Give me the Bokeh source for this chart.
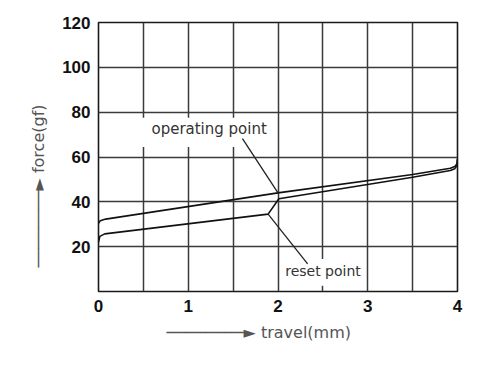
from bokeh.plotting import figure
from bokeh.models import Range1d, FixedTicker, Label, Title
from bokeh.embed import file_html
from bokeh.resources import INLINE

# ---- data ----
travel_operating = [0.0, 0.02, 0.08, 2.0, 3.5, 3.92, 3.97, 3.995, 4.0]
force_operating = [30.4, 31.6, 32.3, 44.0, 52.2, 55.0, 55.8, 57.0, 59.2]

travel_reset = [0.0, 0.015, 0.07, 1.89, 2.01, 3.5, 3.92, 3.97, 3.995, 4.0]
force_reset = [22.0, 24.6, 25.7, 34.5, 41.4, 51.0, 54.0, 54.8, 56.2, 58.8]

x_ticks = [0, 1, 2, 3, 4]
y_ticks = [20, 40, 60, 80, 100, 120]
x_grid = [0.5, 1, 1.5, 2, 2.5, 3, 3.5]
y_grid = [20, 40, 60, 80, 100]

p = figure(width=476, height=364, output_backend="svg", toolbar_location=None,
           x_range=Range1d(0, 4), y_range=Range1d(0, 120),
           min_border_left=98, min_border_right=19, min_border_top=22, min_border_bottom=73)
p.background_fill_color = "white"
p.border_fill_color = "white"
p.outline_line_color = "#1a1a1a"
p.outline_line_width = 1.6

for ax, ticks in ((p.xaxis[0], x_ticks), (p.yaxis[0], y_ticks)):
    ax.ticker = FixedTicker(ticks=ticks)
    ax.axis_line_color = None
    ax.major_tick_line_color = None
    ax.minor_tick_line_color = None
    ax.major_tick_out = 0
    ax.major_tick_in = 0
    ax.minor_tick_out = 0
    ax.major_label_text_font = "Liberation Sans"
    ax.major_label_text_font_style = "bold"
    ax.major_label_text_font_size = "17px"
    ax.major_label_text_color = "#111111"
    ax.major_label_standoff = 8

p.xgrid[0].ticker = FixedTicker(ticks=x_grid)
p.ygrid[0].ticker = FixedTicker(ticks=y_grid)
for g in (p.xgrid[0], p.ygrid[0]):
    g.grid_line_color = "#3a3a3a"
    g.grid_line_width = 1.5
    g.grid_line_alpha = 1.0

# white boxes behind the annotation texts
p.quad(left=[0.4, 2.1], right=[1.85, 2.95], bottom=[64.5, 2.6], top=[77.5, 14.5],
       fill_color="white", line_color=None)

# curves
p.line(travel_operating, force_operating, line_color="#111111", line_width=1.6)
p.line(travel_reset, force_reset, line_color="#111111", line_width=1.6)

# leader lines
p.line([1.604, 2.0], [68.2, 44.0], line_color="#222222", line_width=1.3)
p.line([1.89, 2.33], [34.5, 12.3], line_color="#222222", line_width=1.3)

ann_font = "DejaVu Sans"
p.add_layout(Label(x=0.59, y=72.7, text="operating point", text_font=ann_font,
                   text_font_size="15px", text_color="#333333", text_baseline="middle"))
p.add_layout(Label(x=2.08, y=9.0, text="reset point", text_font=ann_font,
                   text_font_size="14px", text_color="#333333", text_baseline="middle"))

# axis titles with arrows, as side titles
arrow = "\u2500" * 8 + "\u25BA"
p.add_layout(Title(text=arrow + " force(gf)", align="left", offset=24, standoff=23,
                   text_font=ann_font, text_font_size="16px", text_font_style="normal",
                   text_color="#555555"), "left")
p.add_layout(Title(text=arrow + " travel(mm)", align="left", offset=68, standoff=12,
                   text_font=ann_font, text_font_size="16px", text_font_style="normal",
                   text_color="#555555"), "below")

open("out.html", "w").write(file_html(p, INLINE))
